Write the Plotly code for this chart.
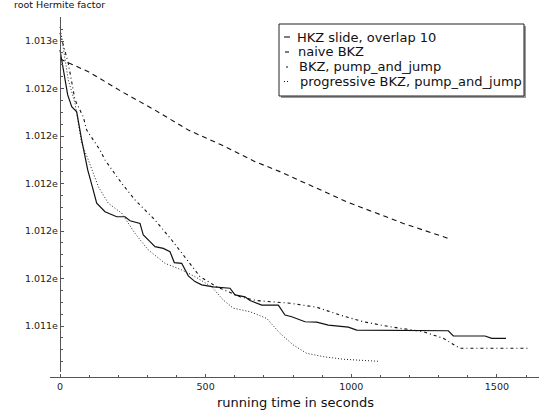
import plotly.graph_objects as go

# ---- data ----
hkz_t = [0, 26.4, 40.2, 57.3, 74.5, 95.1, 110.9, 126.0, 154.5, 177.5, 194.7, 223.2, 240.3, 274.7,
         286.0, 309.0, 326.2, 354.7, 377.7, 392.4, 417.8, 440.5, 463.5, 486.5, 526.3, 583.7, 600.8,
         635.2, 652.3, 692.5, 749.5, 772.5, 795.5, 841.2, 881.3, 921.2, 961.3, 989.8, 1018.7,
         1333.2, 1350.3, 1459.2, 1482.2, 1531.3]
hkz_v = [1.012662, 1.012473, 1.012423, 1.012402, 1.012283, 1.012157, 1.012087, 1.012017, 1.011981,
         1.011967, 1.011960, 1.011960, 1.011943, 1.011932, 1.011883, 1.011855, 1.011834, 1.011827,
         1.011813, 1.011767, 1.011764, 1.011711, 1.011687, 1.011673, 1.011665, 1.011659, 1.011631,
         1.011623, 1.011607, 1.011588, 1.011588, 1.011546, 1.011539, 1.011518, 1.011516, 1.011504,
         1.011497, 1.011495, 1.011483, 1.011480, 1.011458, 1.011458, 1.011448, 1.011448]

naive_t = [0, 97.2, 211.8, 326.2, 440.5, 555.2, 669.5, 755.3, 984.3, 1178.7, 1342.4]
naive_v = [1.012624, 1.012571, 1.012487, 1.012409, 1.012325, 1.012262, 1.012192, 1.012150,
           1.012023, 1.011932, 1.011865]

pj_t = [0, 28.5, 51.5, 80.0, 91.7, 137.3, 154.5, 211.8, 257.5, 326.2, 383.5, 417.8, 463.5, 480.7,
        538.0, 618.0, 675.3, 789.7, 881.3, 961.3, 1041.3, 1133.0, 1247.3, 1316.0, 1373.3, 1613.7]
pj_v = [1.012734, 1.012606, 1.012452, 1.012380, 1.012325, 1.012241, 1.012199, 1.012101, 1.012031,
        1.011946, 1.011862, 1.011806, 1.011736, 1.011708, 1.011665, 1.011623, 1.011607, 1.011596,
        1.011579, 1.011546, 1.011518, 1.011497, 1.011476, 1.011448, 1.011406, 1.011406]

prog_t = [0, 28.5, 51.5, 74.5, 97.2, 131.5, 165.8, 211.8, 257.5, 303.2, 360.5, 417.8, 463.5, 520.8,
          560.7, 595.0, 652.3, 709.7, 755.3, 801.0, 847.0, 904.0, 972.7, 1098.7]
prog_v = [1.012759, 1.012536, 1.012438, 1.012269, 1.012199, 1.012087, 1.012017, 1.011975, 1.011890,
          1.011820, 1.011764, 1.011736, 1.011708, 1.011665, 1.011609, 1.011575, 1.011560, 1.011532,
          1.011469, 1.011420, 1.011385, 1.011371, 1.011360, 1.011351]

series_names = ["HKZ slide, overlap 10", "naive BKZ", "BKZ, pump_and_jump",
                "progressive BKZ, pump_and_jump"]

y_tickvals = [1.0115, 1.0117, 1.0119, 1.0121, 1.0123, 1.0125, 1.0127]
y_ticktext = ["1.011e", "1.012e", "1.012e", "1.012e", "1.012e", "1.012e", "1.013e"]
x_tickvals = [0, 500, 1000, 1500]
x_ticktext = ["0", "500", "1000", "1500"]

# ---- layout geometry ----
W, H = 539, 415
ML, MR, MT, MB = 50, 0, 17, 38
PW, PH = W - ML - MR, H - MT - MB
FONT = "DejaVu Sans"
AX = "#555555"


def px(x):
    return (x - ML) / PW


def py(y):
    return (H - MB - y) / PH


fig = go.Figure()
styles = [
    dict(color="#111111", width=1.2, dash="solid"),
    dict(color="#111111", width=1.1, dash="5px,4px"),
    dict(color="#111111", width=1.1, dash="3px,3px,1px,3px"),
    dict(color="#222222", width=1.0, dash="1px,2px"),
]
for (t, v), name, st in zip([(hkz_t, hkz_v), (naive_t, naive_v), (pj_t, pj_v), (prog_t, prog_v)],
                            series_names, styles):
    fig.add_trace(go.Scatter(x=t, y=v, mode="lines", name=name, line=st, showlegend=False))

shapes = []
annotations = []

# legend box (with shadow)
bx0, bx1, by0, by1 = 279, 524, 24, 96
shapes.append(dict(type="rect", xref="paper", yref="paper", x0=px(bx0 + 2), x1=px(bx1 + 2),
                   y0=py(by0 + 2), y1=py(by1 + 2), fillcolor="#999999", line=dict(width=0), layer="above"))
shapes.append(dict(type="rect", xref="paper", yref="paper", x0=px(bx0), x1=px(bx1),
                   y0=py(by0), y1=py(by1), fillcolor="white", line=dict(color="#222222", width=1), layer="above"))
rows = [37, 52, 67, 81.5]
samples = [(284, 290, "solid"), (285, 289, "solid"), (286, 288, "solid"), (284, 289, "1px,2px")]
text_x = [295, 296, 297, 298]
for r, (sx0, sx1, dsh), tx, name in zip(rows, samples, text_x, series_names):
    shapes.append(dict(type="line", xref="paper", yref="paper", x0=px(sx0), x1=px(sx1),
                       y0=py(r), y1=py(r), line=dict(color="#111111", width=1.1, dash=dsh), layer="above"))
    annotations.append(dict(xref="paper", yref="paper", x=px(tx), y=py(r), text=name, showarrow=False,
                            xanchor="left", yanchor="middle", font=dict(family=FONT, size=13, color="#111111")))

annotations.append(dict(xref="paper", yref="paper", x=px(12), y=py(5), text="root Hermite factor",
                        showarrow=False, xanchor="left", yanchor="middle",
                        font=dict(family=FONT, size=9.5, color="#111111")))
annotations.append(dict(xref="paper", yref="paper", x=px(295), y=py(402), text="running time in seconds",
                        showarrow=False, xanchor="center", yanchor="middle",
                        font=dict(family=FONT, size=13, color="#111111")))

y_top = 1.0127 + (41 - MT) / 237500
y_bot = 1.0115 - (372 - 326) / 237500

fig.update_layout(
    width=W, height=H,
    margin=dict(l=ML, r=MR, t=MT, b=MB, pad=0),
    paper_bgcolor="white", plot_bgcolor="white",
    font=dict(family=FONT, size=9, color="#222222"),
    shapes=shapes, annotations=annotations,
    xaxis=dict(range=[-(ML + 10 - ML) / 0.29127, (W - 60) / 0.29127], anchor="free", position=0,
               showline=True, linecolor=AX, linewidth=1.3, showgrid=False, zeroline=False,
               tickmode="array", tickvals=x_tickvals, ticktext=x_ticktext,
               ticks="inside", ticklen=3, tickwidth=1, tickcolor=AX,
               minor=dict(ticks="inside", ticklen=1.5, tickmode="linear", tick0=0, dtick=100,
                          tickcolor=AX, tickwidth=1, showgrid=False),
               tickfont=dict(family=FONT, size=9.5, color="#222222")),
    yaxis=dict(range=[y_bot, y_top], domain=[5 / PH, 1], anchor="free", position=10 / PW,
               showline=True, linecolor=AX, linewidth=1.3, showgrid=False, zeroline=False,
               tickmode="array", tickvals=y_tickvals, ticktext=y_ticktext,
               ticks="inside", ticklen=3, tickwidth=1, tickcolor=AX,
               minor=dict(ticks="inside", ticklen=1.5, tickmode="linear", tick0=1.0115, dtick=0.00005,
                          tickcolor=AX, tickwidth=1, showgrid=False),
               tickfont=dict(family=FONT, size=9.5, color="#222222")),
)

fig.write_html("out.html")
